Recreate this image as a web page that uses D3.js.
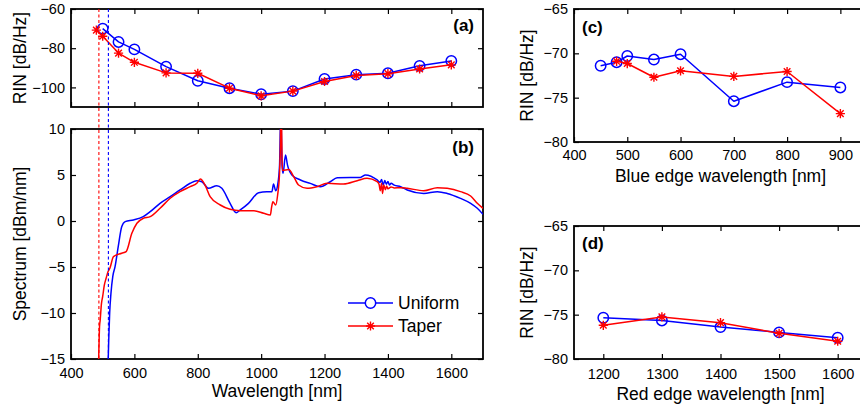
<!DOCTYPE html>
<html>
<head>
<meta charset="utf-8">
<script src="https://cdn.jsdelivr.net/npm/d3@7"></script>
<style>
  html, body { margin: 0; padding: 0; background: #fff; overflow: hidden; }
  svg { display: block; font-family: "Liberation Sans", Arial, Helvetica, sans-serif; }
</style>
</head>
<body>
<svg id="chart" width="860" height="406"></svg>
<script>
// ---------------- DATA ----------------
const seriesNames = ["Uniform", "Taper"];

// (a) RIN vs wavelength
const rinUniformWl = [500, 550, 600, 700, 800, 900, 1000, 1100, 1200, 1300, 1400, 1500, 1600];
const rinUniform   = [-70.0, -76.8, -80.6, -89.4, -96.6, -100.4, -103.5, -101.9, -95.7, -93.5, -92.8, -89.0, -86.5];
const rinTaperWl   = [480, 500, 550, 600, 700, 800, 900, 1000, 1100, 1200, 1300, 1400, 1500, 1600];
const rinTaper     = [-70.8, -73.9, -82.5, -87.2, -92.6, -92.8, -100.4, -104.3, -101.9, -97.0, -93.9, -93.0, -90.6, -88.5];

// blue-edge cut-off markers (dashed lines)
const uniformCutoff = 518;
const taperCutoff = 488;

// (b) spectra
const specUniformWl = [516,519,522,526,532,539,549,560,571,597,628,650,681,713,744,776,797,813,834,860,876,902,921,934,960,992,1018,1034,1039,1046,1052,1058,1062,1066,1069,1077,1083,1097,1124,1155,1187,1218,1240,1282,1313,1329,1366,1375,1380,1385,1390,1395,1400,1405,1410,1420,1440,1461,1513,1556,1587,1629,1661,1682,1700];
const specUniform   = [-17,-13,-10,-7.9,-6,-4.97,-2.79,-0.62,-0.07,0.11,0.47,1.01,1.92,2.64,3.37,4.1,4.38,4.27,3.55,3.84,3.55,1.92,0.9,1.2,1.92,3.08,3.19,3.19,4.02,3.3,3.91,6,12,6,5.18,7.17,6.1,5.0,4.46,4.09,3.73,4.27,4.7,4.74,4.74,5.0,4.46,4.2,4.5,3.9,4.4,4.0,4.3,3.9,4.1,3.9,3.73,3.37,3.0,3.19,3.0,2.46,1.92,1.38,0.73];
const specTaperWl   = [486,488,490,492,496,500,505,511,517,523,534,560,574,592,608,628,650,681,713,744,776,797,808,823,839,871,902,934,976,1008,1029,1033,1037,1046,1052,1058,1061,1063,1065,1067,1087,1103,1118,1145,1176,1208,1260,1303,1334,1366,1372,1376,1380,1383,1387,1392,1396,1400,1410,1420,1440,1461,1513,1556,1587,1629,1661,1682,1700];
const specTaper     = [-17,-14,-11.5,-10.8,-9,-8.2,-7,-6.2,-5.5,-5.1,-3.88,-3.51,-3.33,-1.34,-0.25,0.29,0.47,1.38,2.47,3.19,3.73,4.1,4.57,3.91,2.64,1.74,1.27,1.12,1.12,0.84,0.65,1.5,2.1,1.74,2.83,5.2,9,16,9,5.5,5.6,4.8,3.91,3.55,3.73,4.1,4.02,4.38,4.64,4.27,4.0,3.3,4.1,3.0,3.9,3.4,3.8,3.5,3.7,3.6,3.62,3.55,3.3,3.62,3.55,3.19,2.72,1.92,1.38];

// (c) RIN vs blue edge
const blueEdgeUniformWl = [450, 480, 500, 550, 600, 700, 800, 900];
const blueEdgeUniform   = [-71.4, -71.0, -70.3, -70.7, -70.1, -75.4, -73.25, -73.85];
const blueEdgeTaperWl   = [480, 500, 550, 600, 700, 800, 900];
const blueEdgeTaper     = [-70.9, -71.15, -72.7, -71.97, -72.6, -72.05, -76.8];

// (d) RIN vs red edge
const redEdgeWl      = [1200, 1300, 1400, 1500, 1600];
const redEdgeUniform = [-75.35, -75.65, -76.4, -77.0, -77.6];
const redEdgeTaper   = [-76.2, -75.25, -75.9, -77.1, -78.0];

// tick values
const wlTicks       = [400, 600, 800, 1000, 1200, 1400, 1600];
const rinTicksA     = [-60, -80, -100];
const specTicks     = [10, 5, 0, -5, -10, -15];
const blueEdgeTicks = [400, 500, 600, 700, 800, 900];
const redEdgeTicks  = [1200, 1300, 1400, 1500, 1600];
const rinTicksCD    = [-65, -70, -75, -80];

// ---------------- DRAWING ----------------
const BLUE = "#0000ff", RED = "#ff0000";
const svg = d3.select("#chart");
const TICK = 5, FS = 14.5, TFS = 17.5;

function zip(xs, ys) { return xs.map((x, i) => [x, ys[i]]); }

function starPath(s) {
  const d = s * 0.72;
  return `M0,${-s}L0,${s}M${-s},0L${s},0M${-d},${-d}L${d},${d}M${-d},${d}L${d},${-d}`;
}

function panel(cfg) {
  const x = d3.scaleLinear().domain(cfg.xDomain).range([cfg.x0, cfg.x1]);
  const y = d3.scaleLinear().domain(cfg.yDomain).range([cfg.yBot, cfg.yTop]);
  const g = svg.append("g");
  const id = "clip" + cfg.name;
  svg.append("clipPath").attr("id", id).append("rect")
    .attr("x", cfg.x0).attr("y", cfg.yTop).attr("width", cfg.x1 - cfg.x0).attr("height", cfg.yBot - cfg.yTop);

  const fmt = d3.format("d");
  const ab = g.append("g").attr("transform", `translate(0,${cfg.yBot})`)
    .call(d3.axisBottom(x).tickValues(cfg.xTicks).tickSizeInner(-TICK).tickSizeOuter(0)
      .tickPadding(cfg.xPad).tickFormat(cfg.xLabels ? fmt : () => ""));
  const at = g.append("g").attr("transform", `translate(0,${cfg.yTop})`)
    .call(d3.axisTop(x).tickValues(cfg.xTicks).tickSizeInner(-TICK).tickSizeOuter(0).tickFormat(() => ""));
  const al = g.append("g").attr("transform", `translate(${cfg.x0},0)`)
    .call(d3.axisLeft(y).tickValues(cfg.yTicks).tickSizeInner(-TICK).tickSizeOuter(0).tickPadding(6).tickFormat(d3.format("d")));
  const ar = g.append("g").attr("transform", `translate(${cfg.x1},0)`)
    .call(d3.axisRight(y).tickValues(cfg.yTicks).tickSizeInner(-TICK).tickSizeOuter(0).tickFormat(() => ""));
  [ab, at, al, ar].forEach(a => {
    a.select(".domain").remove();
    a.selectAll(".tick line").attr("stroke", "#000").attr("stroke-width", 1.2);
    a.selectAll(".tick text").attr("fill", "#000").attr("font-size", FS)
      .attr("font-family", '"Liberation Sans", Arial, sans-serif');
  });
  g.append("rect").attr("x", cfg.x0).attr("y", cfg.yTop)
    .attr("width", cfg.x1 - cfg.x0).attr("height", cfg.yBot - cfg.yTop)
    .attr("fill", "none").attr("stroke", "#000").attr("stroke-width", 1.8);

  g.append("text").attr("transform", `translate(${cfg.yTitleX},${(cfg.yTop + cfg.yBot) / 2}) rotate(-90)`)
    .attr("text-anchor", "middle").attr("font-size", TFS).text(cfg.yTitle);
  if (cfg.xTitle) {
    g.append("text").attr("x", (cfg.x0 + cfg.x1) / 2).attr("y", cfg.xTitleY)
      .attr("text-anchor", "middle").attr("font-size", TFS).text(cfg.xTitle);
  }
  g.append("text").attr("x", cfg.labelX).attr("y", cfg.labelY).attr("text-anchor", cfg.labelAnchor)
    .attr("font-size", 17).attr("font-weight", "bold").text(cfg.label);

  return { x, y, g, clip: `url(#${id})` };
}

function lineSeries(p, data, color, marker, curve) {
  const line = d3.line().x(d => p.x(d[0])).y(d => p.y(d[1])).curve(curve || d3.curveLinear);
  p.g.append("path").datum(data).attr("d", line).attr("fill", "none")
    .attr("stroke", color).attr("stroke-width", 1.5).attr("stroke-linejoin", "round")
    .attr("clip-path", p.clip);
  if (marker === "o") {
    p.g.selectAll(null).data(data).enter().append("circle")
      .attr("cx", d => p.x(d[0])).attr("cy", d => p.y(d[1])).attr("r", 5.2)
      .attr("fill", "none").attr("stroke", color).attr("stroke-width", 1.5);
  } else if (marker === "*") {
    p.g.selectAll(null).data(data).enter().append("path")
      .attr("transform", d => `translate(${p.x(d[0])},${p.y(d[1])})`)
      .attr("d", starPath(4.6)).attr("fill", "none").attr("stroke", color).attr("stroke-width", 1.4);
  }
}

const pA = panel({
  name: "A", x0: 71, x1: 483, yTop: 9, yBot: 107,
  xDomain: [400, 1700], yDomain: [-110, -60],
  xTicks: wlTicks, yTicks: rinTicksA, xLabels: false, xPad: 8,
  yTitle: "RIN [dB/Hz]", yTitleX: 26,
  label: "(a)", labelX: 474, labelY: 31, labelAnchor: "end"
});
const pB = panel({
  name: "B", x0: 71, x1: 483, yTop: 129, yBot: 359,
  xDomain: [400, 1700], yDomain: [-15, 10],
  xTicks: wlTicks, yTicks: specTicks, xLabels: true, xPad: 9,
  yTitle: "Spectrum [dBm/nm]", yTitleX: 26,
  xTitle: "Wavelength [nm]", xTitleY: 397,
  label: "(b)", labelX: 474, labelY: 153, labelAnchor: "end"
});
const pC = panel({
  name: "C", x0: 574, x1: 867, yTop: 9, yBot: 142,
  xDomain: [400, 950], yDomain: [-80, -65],
  xTicks: blueEdgeTicks, yTicks: rinTicksCD, xLabels: true, xPad: 8,
  yTitle: "RIN [dB/Hz]", yTitleX: 533,
  xTitle: "Blue edge wavelength [nm]", xTitleY: 182,
  label: "(c)", labelX: 582, labelY: 33, labelAnchor: "start"
});
const pD = panel({
  name: "D", x0: 574, x1: 867, yTop: 226, yBot: 359,
  xDomain: [1150, 1650], yDomain: [-80, -65],
  xTicks: redEdgeTicks, yTicks: rinTicksCD, xLabels: true, xPad: 10,
  yTitle: "RIN [dB/Hz]", yTitleX: 533,
  xTitle: "Red edge wavelength [nm]", xTitleY: 400,
  label: "(d)", labelX: 582, labelY: 249, labelAnchor: "start"
});

[[taperCutoff, RED], [uniformCutoff, BLUE]].forEach(([wl, c]) => {
  svg.append("line").attr("x1", pA.x(wl)).attr("x2", pA.x(wl))
    .attr("y1", pA.y(-60)).attr("y2", pB.y(-15))
    .attr("stroke", c).attr("stroke-width", 1.1).attr("stroke-dasharray", "3,2.5");
});

lineSeries(pA, zip(rinUniformWl, rinUniform), BLUE, "o");
lineSeries(pA, zip(rinTaperWl, rinTaper), RED, "*");
lineSeries(pB, zip(specUniformWl, specUniform), BLUE, null, d3.curveMonotoneX);
lineSeries(pB, zip(specTaperWl, specTaper), RED, null, d3.curveMonotoneX);
lineSeries(pC, zip(blueEdgeUniformWl, blueEdgeUniform), BLUE, "o");
lineSeries(pC, zip(blueEdgeTaperWl, blueEdgeTaper), RED, "*");
lineSeries(pD, zip(redEdgeWl, redEdgeUniform), BLUE, "o");
lineSeries(pD, zip(redEdgeWl, redEdgeTaper), RED, "*");

const legend = svg.append("g");
const legendItems = [
  { name: seriesNames[0], color: BLUE, marker: "o", y: 303 },
  { name: seriesNames[1], color: RED, marker: "*", y: 326 }
];
legendItems.forEach(it => {
  legend.append("line").attr("x1", 348).attr("x2", 393).attr("y1", it.y).attr("y2", it.y)
    .attr("stroke", it.color).attr("stroke-width", 1.5);
  if (it.marker === "o") {
    legend.append("circle").attr("cx", 370.5).attr("cy", it.y).attr("r", 5.2)
      .attr("fill", "#fff").attr("stroke", it.color).attr("stroke-width", 1.5);
  } else {
    legend.append("path").attr("transform", `translate(370.5,${it.y})`).attr("d", starPath(4.6))
      .attr("fill", "none").attr("stroke", it.color).attr("stroke-width", 1.4);
  }
  legend.append("text").attr("x", 398).attr("y", it.y + 6.3).attr("font-size", TFS).text(it.name);
});
</script>
</body>
</html>
